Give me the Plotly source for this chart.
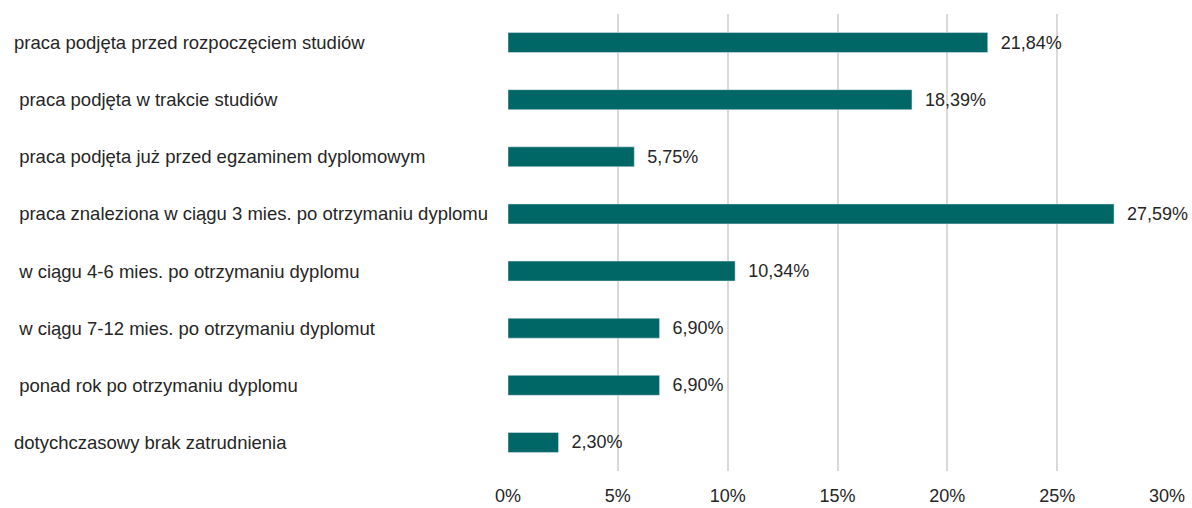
import plotly.graph_objects as go

categories = [
    "praca podjęta przed rozpoczęciem studiów",
    " praca podjęta w trakcie studiów",
    " praca podjęta już przed egzaminem dyplomowym",
    " praca znaleziona w ciągu 3 mies. po otrzymaniu dyplomu",
    " w ciągu 4-6 mies. po otrzymaniu dyplomu",
    " w ciągu 7-12 mies. po otrzymaniu dyplomut",
    " ponad rok po otrzymaniu dyplomu",
    "dotychczasowy brak zatrudnienia",
]
values = [21.84, 18.39, 5.75, 27.59, 10.34, 6.90, 6.90, 2.30]
value_labels = ["21,84%", "18,39%", "5,75%", "27,59%", "10,34%", "6,90%", "6,90%", "2,30%"]
tick_vals = [0, 5, 10, 15, 20, 25, 30]
tick_text = ["0%", "5%", "10%", "15%", "20%", "25%", "30%"]

FONT = "Liberation Sans, Arial, sans-serif"
TXT = "#262626"
W, H = 1192, 508
ML, MR, MT, MB = 508, 25, 14, 37
pw = W - ML - MR

fig = go.Figure(go.Bar(
    x=values, y=categories, orientation="h",
    marker=dict(color="#006666"),
    width=0.35,
    text=["  " + t for t in value_labels],
    textposition="outside",
    textfont=dict(family=FONT, size=18, color=TXT),
    cliponaxis=False,
    hoverinfo="skip",
))

for c in categories:
    lead = len(c) - len(c.lstrip(" "))
    fig.add_annotation(
        x=(12 - ML) / pw, xref="paper", y=c, yref="y",
        text="&nbsp;" * lead + c.lstrip(" "),
        showarrow=False, xanchor="left",
        font=dict(family=FONT, size=18.5, color=TXT),
    )

fig.update_layout(
    width=W, height=H,
    margin=dict(l=ML, r=MR, t=MT, b=MB, autoexpand=False),
    plot_bgcolor="white", paper_bgcolor="white",
    showlegend=False,
    xaxis=dict(range=[0, 30], tickvals=tick_vals, ticktext=tick_text,
               showgrid=True, gridcolor="#d9d9d9", gridwidth=2,
               zeroline=False, showline=False, automargin=False,
               tickfont=dict(family=FONT, size=18, color=TXT),
               ticklabelstandoff=12),
    yaxis=dict(autorange="reversed", showticklabels=False, showgrid=False,
               zeroline=False, automargin=False),
)

fig.write_html(
    "out.html",
    config={"displayModeBar": False},
    post_script="document.body.style.margin='0';document.body.style.overflow='hidden';",
)
